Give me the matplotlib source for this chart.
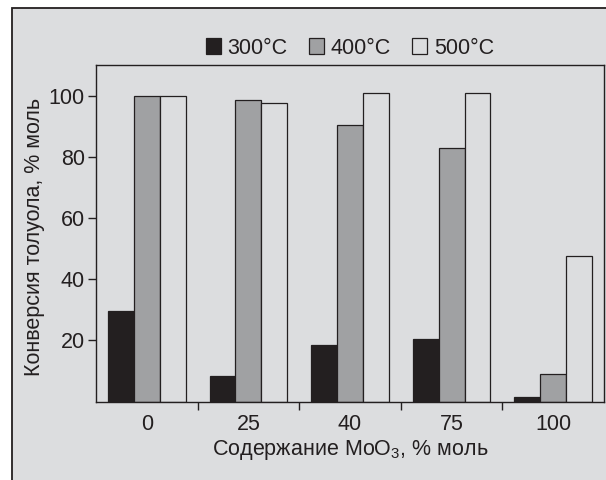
import matplotlib
matplotlib.use('Agg')
import matplotlib.pyplot as plt
from matplotlib.patches import Patch, Rectangle
import numpy as np

# Data
categories = ['0', '25', '40', '75', '100']
series_names = ['300°C', '400°C', '500°C']
conv_300 = [29.5, 8.4, 18.5, 20.4, 1.6]
conv_400 = [100, 98.5, 90.5, 83, 9]
conv_500 = [100, 97.5, 101, 101, 47.5]
y_ticks = [20, 40, 60, 80, 100]

plt.rcParams['font.family'] = ['Liberation Sans', 'DejaVu Sans']
plt.rcParams['mathtext.fontset'] = 'custom'
plt.rcParams['mathtext.rm'] = 'Liberation Sans'
plt.rcParams['mathtext.it'] = 'Liberation Sans'

bg = '#dcdddf'
dark = '#231f20'
gray = '#a0a1a3'
fs = 15.5

fig = plt.figure(figsize=(6.06, 4.8), dpi=100, facecolor='white')
# outer frame of the picture
fig.patches.append(Rectangle((12 / 606, -0.05), 1.0, 1.05 - 8 / 480,
                             transform=fig.transFigure, facecolor=bg,
                             edgecolor=dark, linewidth=1.3, zorder=-5))

ax = fig.add_axes([96 / 606, 1 - 401.6 / 480, 508 / 606, (401.6 - 65) / 480])
ax.set_facecolor(bg)

x = np.arange(len(categories))
w = 0.255
colors = [dark, gray, bg]
for i, (vals, c) in enumerate(zip([conv_300, conv_400, conv_500], colors)):
    ax.bar(x + (i - 1) * w, vals, w, color=c, edgecolor=dark, linewidth=0.9,
           zorder=2)

ax.set_xlim(-0.5, len(categories) - 0.5)
ax.set_ylim(0, 110)
ax.set_yticks(y_ticks)
ax.set_yticklabels([str(t) for t in y_ticks], fontsize=fs, color=dark)

# ticks at group borders, labels at group centres
ax.set_xticks(x[:-1] + 0.5)
ax.set_xticklabels([])
ax.set_xticks(x, minor=True)
ax.set_xticklabels(categories, minor=True, fontsize=fs, color=dark)
ax.tick_params(axis='x', which='minor', length=0, pad=9)
ax.tick_params(axis='both', which='major', direction='out', length=6,
               width=1, color=dark)
ax.tick_params(axis='y', pad=2)

for s in ax.spines.values():
    s.set_color(dark)
    s.set_linewidth(1.0)

ax.set_xlabel('Содержание MoO$_3$, % моль', fontsize=fs, color=dark,
              labelpad=2)
fig.text(35 / 606, 1 - 237 / 480, 'Конверсия толуола, % моль', rotation=90,
         fontsize=fs, color=dark, ha='center', va='center')

handles = [Patch(facecolor=c, edgecolor=dark, linewidth=0.9) for c in colors]
fig.legend(handles, series_names, loc='center', ncol=3, frameon=False,
           bbox_to_anchor=(350 / 606, 1 - 48 / 480), fontsize=fs,
           handlelength=0.7, handleheight=0.7, handletextpad=0.3,
           columnspacing=1.0, labelcolor=dark)

fig.savefig('out.png', dpi=100, facecolor='white')
